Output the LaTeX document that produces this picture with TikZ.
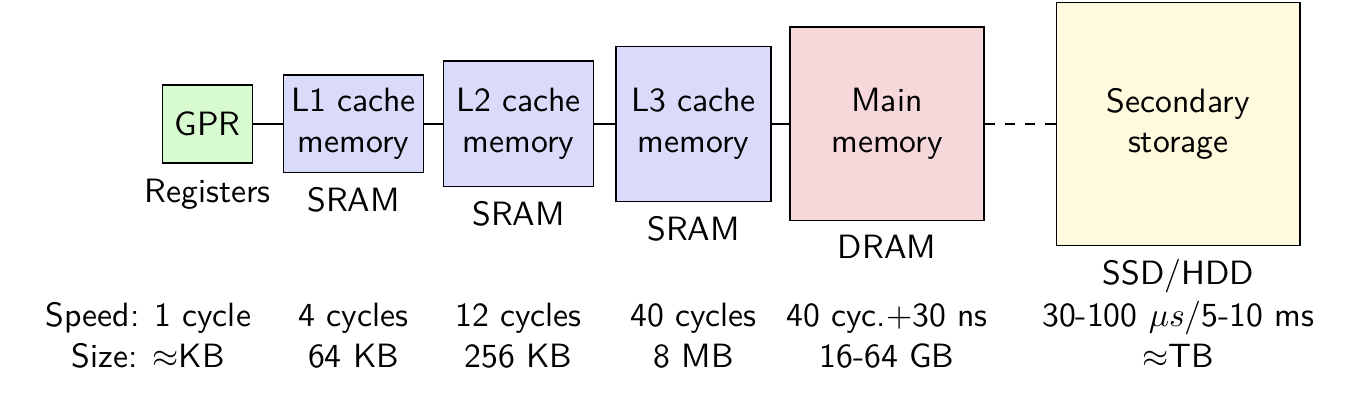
\documentclass[tikz,border=0pt]{standalone}
\definecolor{gprfill}{RGB}{216,250,208}
\definecolor{cachefill}{RGB}{218,218,250}
\definecolor{mainfill}{RGB}{246,216,218}
\definecolor{secfill}{RGB}{255,249,222}
\begin{document}
\begin{tikzpicture}[x=0.29674pt, y=-0.29674pt, font=\sffamily,
  box/.style={draw=black, line width=0.45pt, inner sep=0pt, align=center},
  lbl/.style={inner sep=3.33pt, anchor=north},
  row/.style={anchor=base, inner sep=0pt},
  link/.style={line width=0.45pt}]
\useasboundingbox (0,0) rectangle (1348,412);

\node[box, fill=gprfill, minimum width=26.71pt, minimum height=23.15pt] (gpr) at (207.7,123.8) {GPR};
\node[box, fill=cachefill, minimum width=41.66pt, minimum height=28.99pt] (l1) at (353.5,123.8) {L1 cache\\memory};
\node[box, fill=cachefill, minimum width=44.39pt, minimum height=37.30pt] (l2) at (518.5,123.8) {L2 cache\\memory};
\node[box, fill=cachefill, minimum width=46.0pt, minimum height=46.0pt] (l3) at (693.5,123.8) {L3 cache\\memory};
\node[box, fill=mainfill, minimum width=57.57pt, minimum height=57.48pt] (main) at (887,123.8) {Main\\memory};
\node[box, fill=secfill, minimum width=72.2pt, minimum height=72.1pt] (sec) at (1178.3,123.8) {Secondary\\storage};

\draw[link] (gpr) -- (l1);
\draw[link] (l1) -- (l2);
\draw[link] (l2) -- (l3);
\draw[link] (l3) -- (main);
\draw[link, dashed] (main) -- (sec);

\node[lbl] (gprlab) at ([yshift=-1.2pt]gpr.south) {Registers};
\node[lbl] (l1lab) at ([yshift=-0.6pt]l1.south) {SRAM};
\node[lbl] (l2lab) at ([yshift=-0.6pt]l2.south) {SRAM};
\node[lbl] (l3lab) at ([yshift=-0.6pt]l3.south) {SRAM};
\node[lbl] (mainlab) at ([yshift=-0.6pt]main.south) {DRAM};
\node[lbl] (seclab) at ([yshift=-0.3pt]sec.south) {SSD/HDD};

\node[row] (sp0) at (148.3,326.7) {Speed: 1 cycle};
\node[row] (sp1) at (353.5,326.7) {4 cycles};
\node[row] (sp2) at (518.5,326.7) {12 cycles};
\node[row] (sp3) at (693.5,326.7) {40 cycles};
\node[row] (sp4) at (887,326.7) {40 cyc.$+$30 ns};
\node[row] (sp5) at (1178.3,326.7) {30-100 $\mu s$/5-10 ms};

\node[row] (sz0) at (148.3,367) {Size: $\approx$KB};
\node[row] (sz1) at (353.5,367) {64 KB};
\node[row] (sz2) at (518.5,367) {256 KB};
\node[row] (sz3) at (693.5,367) {8 MB};
\node[row] (sz4) at (887,367) {16-64 GB};
\node[row] (sz5) at (1178.3,367) {$\approx$TB};
\end{tikzpicture}
\end{document}
